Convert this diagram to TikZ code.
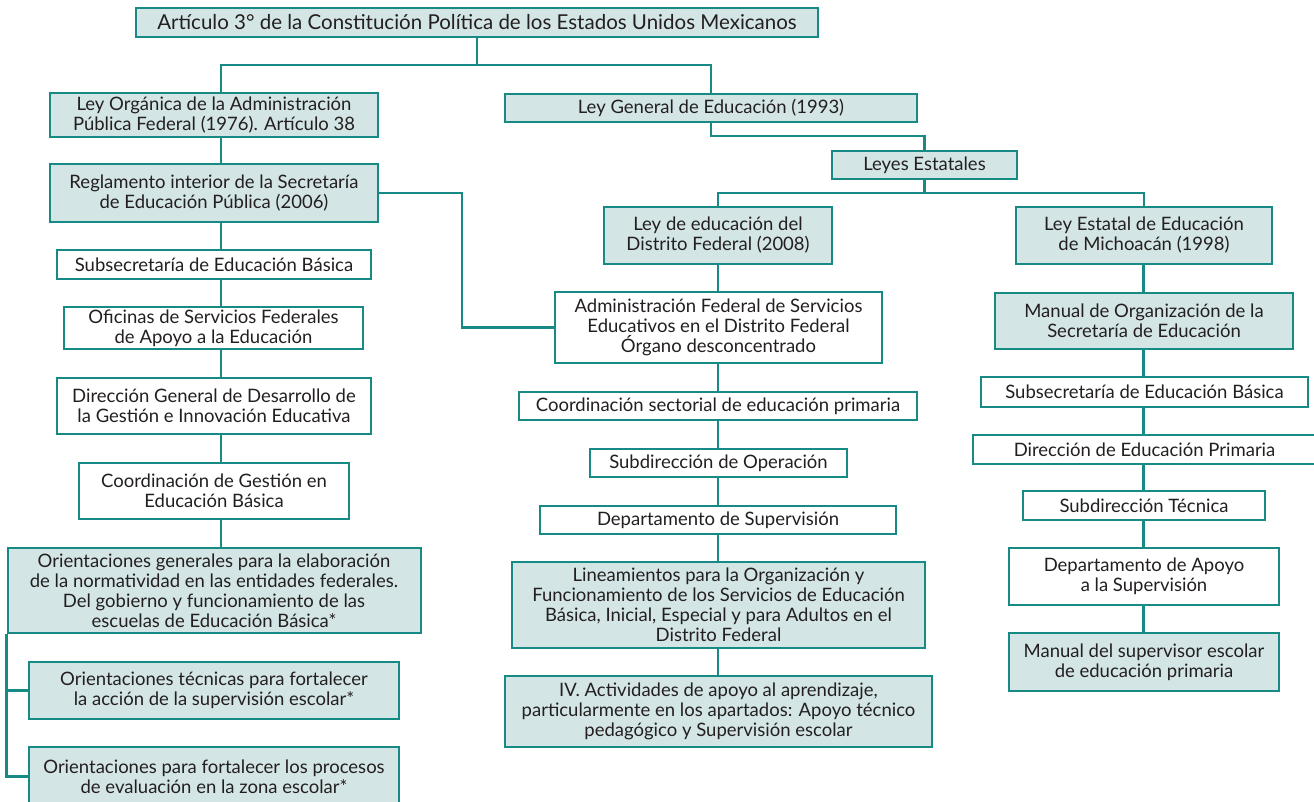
\documentclass[tikz,border=0pt]{standalone}
\usepackage{fontspec}
\setmainfont{Lato}
\definecolor{tealc}{HTML}{178A86}
\definecolor{fillc}{HTML}{D4E5E5}
\definecolor{txtc}{HTML}{231F20}
\begin{document}
\begin{tikzpicture}[x=1pt,y=-1pt,
  every node/.style={font=\fontsize{18.5}{20}\selectfont, text=txtc, align=center, inner sep=0pt},
  box/.style={draw=tealc, line width=2pt},
  boxf/.style={box, fill=fillc},
  boxw/.style={box, fill=white},
  conn/.style={draw=tealc, line width=2.5pt}]
\useasboundingbox (0,0) rectangle (1314,802);
% top
\node[boxf, minimum width=682, minimum height=29, font=\fontsize{20.5}{22}\selectfont] (top) at (477,22.5) {Artículo 3° de la Constitución Política de los Estados Unidos Mexicanos};
% left column
\node[boxf, minimum width=328, minimum height=44] (lo) at (214,115) {Ley Orgánica de la Administración\\Pública Federal (1976). Artículo 38};
\node[boxf, minimum width=328, minimum height=58] (reg) at (214,193) {Reglamento interior de la Secretaría\\de Educación Pública (2006)};
\node[boxw, minimum width=314, minimum height=29] (sub1) at (214,264.5) {Subsecretaría de Educación Básica};
\node[boxw, minimum width=299, minimum height=42] (ofi) at (213.5,328) {Oficinas de Servicios Federales\\de Apoyo a la Educación};
\node[boxw, minimum width=314, minimum height=56] (dg) at (214,406) {Dirección General de Desarrollo de\\la Gestión e Innovación Educativa};
\node[boxw, minimum width=270, minimum height=56] (cg) at (214,491) {Coordinación de Gestión en\\Educación Básica};
\node[boxf, minimum width=413, minimum height=85] (og) at (214,590.5) {Orientaciones generales para la elaboración\\de la normatividad en las entidades federales.\\Del gobierno y funcionamiento de las\\escuelas de Educación Básica*};
\node[boxf, minimum width=370, minimum height=57] (ot) at (214,690.5) {Orientaciones técnicas para fortalecer\\la acción de la supervisión escolar*};
\node[boxf, minimum width=370, minimum height=59] (of) at (214,776.5) {Orientaciones para fortalecer los procesos\\de evaluación en la zona escolar*};
% middle column
\node[boxf, minimum width=412, minimum height=28] (lg) at (711,108) {Ley General de Educación (1993)};
\node[boxf, minimum width=185, minimum height=28] (le) at (924.5,165) {Leyes Estatales};
\node[boxf, minimum width=228, minimum height=57] (ldf) at (718,235.5) {Ley de educación del\\Distrito Federal (2008)};
\node[boxw, minimum width=327, minimum height=71] (adm) at (718.5,327.5) {Administración Federal de Servicios\\Educativos en el Distrito Federal\\Órgano desconcentrado};
\node[boxw, minimum width=398, minimum height=28] (cs) at (718,406) {Coordinación sectorial de educación primaria};
\node[boxw, minimum width=257, minimum height=28] (so) at (718.5,463) {Subdirección de Operación};
\node[boxw, minimum width=356, minimum height=28] (ds) at (718,520) {Departamento de Supervisión};
\node[boxf, minimum width=413, minimum height=86] (lin) at (718.5,605) {Lineamientos para la Organización y\\Funcionamiento de los Servicios de Educación\\Básica, Inicial, Especial y para Adultos en el\\Distrito Federal};
\node[boxf, minimum width=427, minimum height=71] (iv) at (718.5,711.5) {IV. Actividades de apoyo al aprendizaje,\\particularmente en los apartados: Apoyo técnico\\pedagógico y Supervisión escolar};
% right column
\node[boxf, minimum width=256, minimum height=57] (lem) at (1144,235.5) {Ley Estatal de Educación\\de Michoacán (1998)};
\node[boxf, minimum width=298, minimum height=56] (mo) at (1144,321) {Manual de Organización de la\\Secretaría de Educación};
\node[boxw, minimum width=327, minimum height=30] (sub2) at (1144.5,392) {Subsecretaría de Educación Básica};
\node[boxw, minimum width=343, minimum height=29] (dep) at (1144.5,449.5) {Dirección de Educación Primaria};
\node[boxw, minimum width=242, minimum height=29] (st) at (1144,505.5) {Subdirección Técnica};
\node[boxw, minimum width=270, minimum height=57] (da) at (1144,576.5) {Departamento de Apoyo\\a la Supervisión};
\node[boxf, minimum width=270, minimum height=58] (ms) at (1144,662) {Manual del supervisor escolar\\de educación primaria};
% helper coordinates
\coordinate (xL) at (221,0);
\coordinate (xM) at (718,0);
\coordinate (xR) at (1143.5,0);
\coordinate (xK) at (462,0);
\coordinate (h0) at (0,65);
\coordinate (h1) at (0,136);
\coordinate (h2) at (0,193);
% connectors
\draw[conn] (top.south) -- (top.south |- h0);
\draw[conn] (lo.north -| xL) -- (xL |- h0) -- (lg.north |- h0) -- (lg.north);
\draw[conn] (lg.south) -- (lg.south |- h1) -- (le.north |- h1) -- (le.north);
\draw[conn] (le.south) -- (le.south |- h2);
\draw[conn] (ldf.north) -- (ldf.north |- h2) -- (lem.north |- h2) -- (lem.north);
\draw[conn] (reg.east) -- (xK |- reg.east) -- (xK |- adm.west) -- (adm.west);
\foreach \a/\b in {lo/reg, reg/sub1, sub1/ofi, ofi/dg, dg/cg, cg/og}
  \draw[conn] (\a.south -| xL) -- (\b.north -| xL);
\foreach \a/\b in {ldf/adm, adm/cs, cs/so, so/ds, ds/lin, lin/iv}
  \draw[conn] (\a.south -| xM) -- (\b.north -| xM);
\foreach \a/\b in {lem/mo, mo/sub2, sub2/dep, dep/st, st/da, da/ms}
  \draw[conn] (\a.south -| xR) -- (\b.north -| xR);
\draw[conn] (og.south west) -- (og.south west |- of.west) -- (of.west);
\draw[conn] (og.south west |- ot.west) -- (ot.west);
\end{tikzpicture}
\end{document}
